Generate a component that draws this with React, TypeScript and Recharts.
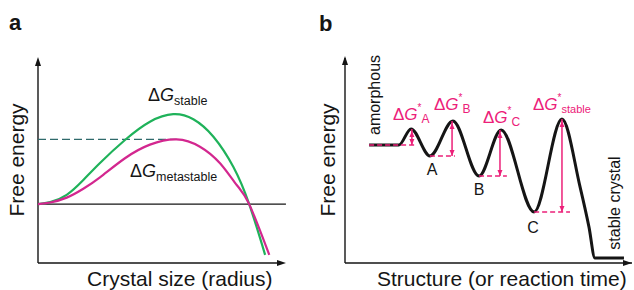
import React from 'react';
import { LineChart, Line, XAxis, YAxis, ReferenceLine, ReferenceDot } from 'recharts';

const FONT = '"Liberation Sans", Arial, Helvetica, sans-serif';
const INK = '#151515';
const GREEN = '#1fb25a';
const MAGENTA = '#d3278f';
const TEAL = '#2f6a6b';
const PINK = '#ec2079';

// panel a: free energy of a nucleus vs. its radius (arbitrary units)
const radiusStable = [0, 5, 11.7, 18.5, 25.3, 35.5, 45.7, 55.2, 63.4, 71.6, 79.7, 86.2, 92.7];
const energyStable = [0, 1.0, 4.6, 11.9, 20.3, 31.6, 40.6, 44.3, 41.8, 33.2, 18.4, 0, -25];
const radiusMeta = [0, 5, 11.7, 18.5, 25.3, 35.5, 45.7, 56.6, 66.1, 74.3, 81.1, 86.2, 94.4];
const energyMeta = [0, 0.8, 3.2, 7.6, 13.2, 22.6, 29.3, 31.9, 28.3, 20.1, 9.4, 0, -25];
const metaBarrier = 31.9;
const metaCritical = 56.6;

// panel b: stepwise pathway amorphous -> A -> B -> C -> stable crystal
const stepX = [8.4, 18.8, 23.0, 29.6, 37.6, 46.7, 54.4, 65.9, 75.6, 81.9, 85.0, 87.1, 97.2];
const stepY = [57.6, 57.6, 65.4, 52.2, 69.3, 42.4, 64.9, 24.9, 70.2, 37.1, 17.6, 2.4, 2.4];
const wellStart = [8.4, 29.6, 46.7, 65.9];
const wellEnd = [25.1, 38.3, 56.4, 78.4];
const wellLevel = [57.6, 52.2, 42.4, 24.9];
const peakX = [23.3, 37.3, 54.0, 75.6];
const peakLevel = [65.4, 69.3, 64.9, 70.2];

const toPoints = (xs: number[], ys: number[]) => xs.map((x, i) => ({ x, y: ys[i] }));
const stableData = toPoints(radiusStable, energyStable);
const metaData = toPoints(radiusMeta, energyMeta);
const stepData = toPoints(stepX, stepY);

const head = (dir: 'up' | 'down' | 'right', color: string, w: number, h: number, shift = 0) => (props: any) => {
  const { cx, cy } = props;
  let pts = '';
  if (dir === 'up') {
    const t = cy + shift;
    pts = `${cx},${t} ${cx - w / 2},${t + h} ${cx + w / 2},${t + h}`;
  } else if (dir === 'down') {
    const t = cy - shift;
    pts = `${cx},${t} ${cx - w / 2},${t - h} ${cx + w / 2},${t - h}`;
  } else {
    const t = cx + shift;
    pts = `${t},${cy} ${t - h},${cy - w / 2} ${t - h},${cy + w / 2}`;
  }
  return <polygon points={pts} fill={color} />;
};

const PanelA = () => (
  <LineChart width={317} height={290} margin={{ top: 60, right: 34, bottom: 27, left: 38 }}>
    <XAxis hide type="number" dataKey="x" domain={[0, 100]} allowDataOverflow />
    <YAxis hide type="number" domain={[-29, 71]} allowDataOverflow />
    <ReferenceLine segment={[{ x: 0, y: -29 }, { x: 100, y: -29 }]} stroke={INK} strokeWidth={1.4} ifOverflow="visible" />
    <ReferenceLine segment={[{ x: 0, y: -29 }, { x: 0, y: 71 }]} stroke={INK} strokeWidth={1.4} ifOverflow="visible" />
    <ReferenceDot x={100} y={-29} r={0} shape={head('right', INK, 6, 9, 3)} ifOverflow="visible" />
    <ReferenceDot x={0} y={71} r={0} shape={head('up', INK, 6, 9, -3)} ifOverflow="visible" />
    <ReferenceLine segment={[{ x: 0, y: 0 }, { x: 101.2, y: 0 }]} stroke={INK} strokeWidth={1.3} ifOverflow="visible" />
    <ReferenceLine segment={[{ x: 0, y: metaBarrier }, { x: metaCritical, y: metaBarrier }]} stroke={TEAL} strokeWidth={1.4} strokeDasharray="8 4" ifOverflow="visible" />
    <Line data={stableData} dataKey="y" type="natural" stroke={GREEN} strokeWidth={2.2} dot={false} activeDot={false} isAnimationActive={false} />
    <Line data={metaData} dataKey="y" type="natural" stroke={MAGENTA} strokeWidth={2.2} dot={false} activeDot={false} isAnimationActive={false} />
  </LineChart>
);

const PanelB = () => (
  <LineChart width={317} height={290} margin={{ top: 58, right: 2, bottom: 27, left: 28 }}>
    <XAxis hide type="number" dataKey="x" domain={[0, 100]} allowDataOverflow />
    <YAxis hide type="number" domain={[0, 100]} allowDataOverflow />
    <ReferenceLine segment={[{ x: 0, y: 0 }, { x: 100, y: 0 }]} stroke={INK} strokeWidth={1.4} ifOverflow="visible" />
    <ReferenceLine segment={[{ x: 0, y: 0 }, { x: 0, y: 100 }]} stroke={INK} strokeWidth={1.4} ifOverflow="visible" />
    <ReferenceDot x={100} y={0} r={0} shape={head('right', INK, 6, 9, 0)} ifOverflow="visible" />
    <ReferenceDot x={0} y={100} r={0} shape={head('up', INK, 6, 9, -2)} ifOverflow="visible" />
    <Line data={stepData} dataKey="y" type="monotone" stroke={INK} strokeWidth={3} dot={false} activeDot={false} isAnimationActive={false} />
    {wellLevel.map((lv, i) => (
      <ReferenceLine key={`w${i}`} segment={[{ x: wellStart[i], y: lv }, { x: wellEnd[i], y: lv }]} stroke={PINK} strokeWidth={1.5} strokeDasharray="5 3" ifOverflow="visible" />
    ))}
    {peakX.map((px, i) => (
      <ReferenceLine key={`a${i}`} segment={[{ x: px, y: wellLevel[i] }, { x: px, y: peakLevel[i] }]} stroke={PINK} strokeWidth={1.5} ifOverflow="visible" />
    ))}
    {peakX.map((px, i) => (
      <ReferenceDot key={`t${i}`} x={px} y={peakLevel[i]} r={0} shape={head('up', PINK, 5, 6, 2)} ifOverflow="visible" />
    ))}
    {peakX.map((px, i) => (
      <ReferenceDot key={`b${i}`} x={px} y={wellLevel[i]} r={0} shape={head('down', PINK, 5, 6, 0)} ifOverflow="visible" />
    ))}
  </LineChart>
);

const DeltaG = ({ x, y, size, sub, subSize, color, star }: any) => (
  <text x={x} y={y} fontSize={size} fill={color}>
    <tspan>Δ</tspan>
    <tspan fontStyle="italic">G</tspan>
    {star ? (
      <>
        <tspan fontSize={10} dy={-9}>*</tspan>
        <tspan fontSize={subSize} dy={12}>{sub}</tspan>
      </>
    ) : (
      <tspan fontSize={subSize} dy={4}>{sub}</tspan>
    )}
  </text>
);

const Labels = () => (
  <svg width={634} height={290} style={{ position: 'absolute', left: 0, top: 0, pointerEvents: 'none' }} fontFamily={FONT}>
    <text x={9} y={30} fontSize={22} fontWeight="bold" fill={INK}>a</text>
    <text x={319} y={31} fontSize={22} fontWeight="bold" fill={INK}>b</text>

    <text transform="translate(24,160) rotate(-90)" textAnchor="middle" fontSize={21} fill={INK}>Free energy</text>
    <text x={87} y={286} fontSize={21} fill={INK}>Crystal size (radius)</text>
    <DeltaG x={148} y={101} size={18} sub="stable" subSize={12.5} color={INK} />
    <DeltaG x={130} y={177} size={18} sub="metastable" subSize={12.5} color={INK} />

    <text transform="translate(335,160) rotate(-90)" textAnchor="middle" fontSize={21} fill={INK}>Free energy</text>
    <text x={377} y={286} fontSize={21} fill={INK}>Structure (or reaction time)</text>
    <text transform="translate(380,95) rotate(-90)" textAnchor="middle" fontSize={16} fill={INK}>amorphous</text>
    <text transform="translate(620,203) rotate(-90)" textAnchor="middle" fontSize={16} fill={INK}>stable crystal</text>
    <text x={432} y={175} textAnchor="middle" fontSize={16} fill={INK}>A</text>
    <text x={479} y={195} textAnchor="middle" fontSize={16} fill={INK}>B</text>
    <text x={533} y={233} textAnchor="middle" fontSize={16} fill={INK}>C</text>

    <DeltaG x={393} y={120} size={17} sub="A" subSize={12} color={PINK} star />
    <DeltaG x={434} y={110} size={17} sub="B" subSize={12} color={PINK} star />
    <DeltaG x={483} y={123} size={17} sub="C" subSize={12} color={PINK} star />
    <DeltaG x={533} y={110} size={17} sub="stable" subSize={11} color={PINK} star />
  </svg>
);

export default function App() {
  return (
    <div style={{ position: 'absolute', left: 0, top: 0, width: 634, height: 290, background: '#fff', fontFamily: FONT }}>
      <div style={{ position: 'absolute', left: 0, top: 0 }}>
        <PanelA />
      </div>
      <div style={{ position: 'absolute', left: 317, top: 0 }}>
        <PanelB />
      </div>
      <Labels />
    </div>
  );
}
